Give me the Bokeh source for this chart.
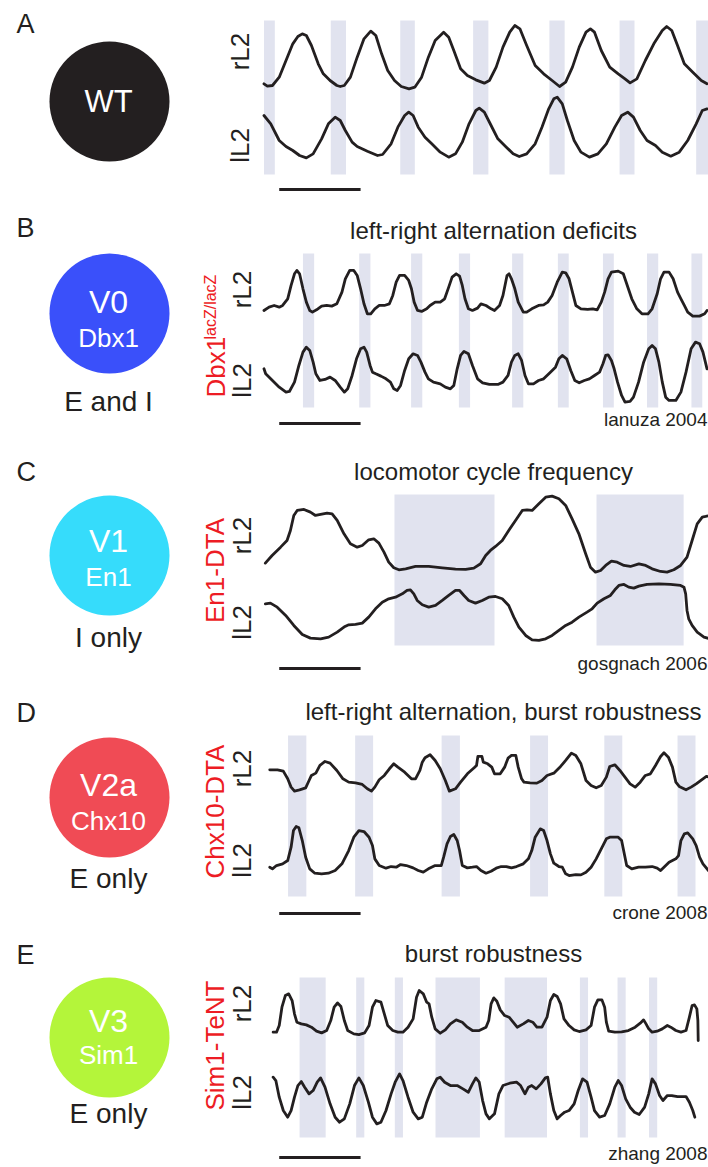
import numpy as np
from bokeh.plotting import figure
from bokeh.models import Range1d
from bokeh.core.properties import value
from bokeh.embed import file_html
from bokeh.resources import INLINE

W, H = 708, 1167
FS = 120.0          # digitised samples per second
PX_PER_SAMPLE = 1 / 2.95
AMP_PER_PX = 3.0    # amplitude units (a.u.) per pixel row
FONT = value("Liberation Sans")
INK = "#231f20"
RED = "#ed1c24"
BAND = "#e1e3ef"
BASELINE_FIX = 0.36  # em offset between requested and drawn alphabetic baseline

# ---------------- ventral root recordings: (sample, amplitude a.u.) ----------------
A_RL2 = [(25, 20), (35, 13), (50, 15), (70, 40), (90, 90), (110, 140), (125, 162), (138, 170), (150, 165),
         (165, 135), (185, 80), (200, 50), (220, 30), (240, 15), (250, 12), (262, 15), (280, 40), (300, 100),
         (320, 155), (340, 178), (355, 165), (372, 110), (390, 60), (410, 30), (430, 12), (453, 5), (470, 10),
         (490, 40), (510, 100), (530, 150), (555, 175), (570, 160), (585, 120), (605, 65), (625, 45), (650, 32),
         (675, 22), (690, 30), (710, 70), (730, 130), (750, 175), (765, 195), (780, 185), (800, 135), (825, 75),
         (850, 50), (875, 30), (897, 12), (915, 25), (935, 70), (955, 130), (975, 175), (988, 185), (1000, 175),
         (1020, 120), (1045, 70), (1070, 50), (1090, 35), (1105, 23), (1125, 35), (1150, 90), (1175, 140),
         (1200, 180), (1213, 192), (1228, 180), (1245, 135), (1265, 80), (1290, 55), (1315, 30), (1332, 20)]
A_LL2 = [(25, 135), (45, 110), (70, 60), (90, 42), (110, 30), (130, 15), (150, 8), (170, 20), (195, 65),
         (215, 110), (235, 130), (250, 120), (265, 90), (285, 55), (300, 42), (330, 28), (360, 15), (375, 18),
         (400, 50), (420, 100), (440, 135), (452, 145), (465, 135), (480, 100), (500, 70), (520, 50), (545, 25),
         (570, 10), (590, 20), (610, 55), (630, 110), (650, 150), (660, 157), (675, 145), (695, 105), (715, 65),
         (740, 40), (760, 20), (778, 12), (800, 20), (825, 50), (845, 100), (865, 155), (880, 185), (890, 190),
         (905, 170), (920, 120), (940, 60), (960, 25), (985, 10), (1010, 20), (1035, 50), (1060, 100), (1080, 135),
         (1098, 145), (1115, 130), (1135, 90), (1155, 60), (1180, 45), (1200, 25), (1225, 13), (1250, 25),
         (1275, 60), (1300, 110), (1318, 150), (1332, 155)]
A_BANDS = [(25, 57), (222, 267), (427, 470), (642, 687), (867, 912), (1074, 1118), (1300, 1336)]

B_RL2 = [(25, 25), (40, 35), (55, 40), (70, 35), (80, 40), (95, 60), (105, 100), (115, 135), (122, 145),
         (130, 135), (140, 90), (150, 50), (160, 25), (168, 20), (180, 27), (195, 38), (210, 40), (225, 38),
         (240, 45), (255, 80), (265, 120), (278, 145), (290, 145), (300, 130), (310, 90), (320, 45), (330, 15),
         (340, 15), (352, 30), (365, 40), (380, 40), (395, 45), (405, 70), (415, 110), (425, 130), (440, 130),
         (452, 115), (460, 90), (468, 50), (478, 25), (490, 22), (505, 30), (515, 40), (530, 50), (545, 50),
         (558, 60), (570, 95), (580, 125), (592, 135), (602, 128), (610, 100), (618, 60), (628, 30), (640, 25),
         (655, 32), (665, 45), (680, 40), (695, 30), (705, 25), (720, 40), (730, 70), (742, 130), (748, 135),
         (755, 120), (765, 90), (775, 50), (790, 20), (800, 20), (815, 30), (835, 40), (850, 42), (862, 50),
         (875, 70), (890, 110), (905, 140), (915, 138), (925, 120), (935, 80), (945, 40), (960, 30), (980, 28),
         (995, 30), (1008, 27), (1020, 50), (1030, 80), (1040, 120), (1050, 140), (1070, 143), (1085, 135),
         (1095, 105), (1110, 60), (1125, 30), (1140, 15), (1158, 15), (1170, 30), (1185, 75), (1195, 120),
         (1205, 140), (1220, 140), (1232, 120), (1245, 80), (1255, 60), (1265, 40), (1275, 20), (1290, 8),
         (1310, 8), (1325, 15), (1332, 25)]
B_LL2 = [(25, 105), (30, 90), (50, 70), (70, 50), (90, 35), (100, 37), (115, 65), (128, 115), (140, 155),
         (150, 170), (160, 160), (170, 125), (178, 90), (190, 70), (205, 73), (220, 80), (235, 70), (250, 50),
         (262, 35), (272, 45), (285, 85), (298, 135), (310, 165), (320, 170), (328, 155), (338, 115), (345, 95),
         (355, 90), (370, 83), (385, 75), (398, 65), (408, 45), (418, 40), (428, 55), (440, 100), (452, 135),
         (465, 150), (478, 145), (488, 125), (500, 95), (510, 75), (525, 65), (545, 60), (560, 50), (575, 45),
         (585, 55), (595, 105), (605, 145), (615, 157), (628, 150), (640, 115), (655, 75), (670, 63), (690, 58),
         (715, 58), (730, 65), (745, 85), (755, 125), (765, 145), (775, 150), (785, 130), (795, 85), (805, 60),
         (820, 60), (835, 70), (850, 75), (870, 95), (885, 110), (895, 135), (905, 145), (918, 135), (930, 100),
         (942, 70), (955, 63), (970, 70), (985, 75), (1000, 85), (1015, 95), (1025, 120), (1033, 145),
         (1040, 147), (1050, 130), (1058, 105), (1068, 65), (1080, 25), (1090, 5), (1105, 7), (1115, 20),
         (1130, 65), (1145, 125), (1160, 165), (1170, 175), (1180, 165), (1190, 125), (1200, 65), (1210, 20),
         (1220, 10), (1240, 10), (1255, 35), (1270, 95), (1285, 165), (1298, 185), (1310, 180), (1320, 155),
         (1332, 105)]
B_BANDS = [(140, 173), (306, 339), (459, 492), (600, 633), (757, 790), (892, 924), (1025, 1057),
           (1155, 1188), (1286, 1318)]

C_RL2 = [(29, 32), (49, 55), (74, 80), (93, 100), (103, 130), (113, 175), (123, 190), (143, 193), (162, 185),
         (177, 175), (192, 178), (211, 182), (226, 180), (241, 160), (261, 120), (280, 90), (300, 80), (315, 85),
         (334, 102), (349, 105), (364, 92), (379, 65), (393, 35), (408, 18), (423, 12), (443, 15), (472, 22),
         (511, 22), (551, 18), (590, 14), (620, 13), (644, 17), (664, 30), (679, 55), (693, 70), (708, 82),
         (728, 100), (747, 130), (767, 160), (787, 190), (801, 192), (816, 190), (836, 210), (856, 230),
         (875, 233), (895, 225), (915, 205), (934, 165), (954, 120), (974, 60), (988, 20), (1003, 5),
         (1018, 10), (1033, 25), (1050, 38), (1067, 35), (1087, 25), (1106, 22), (1131, 30), (1151, 25),
         (1170, 15), (1195, 7), (1214, 5), (1234, 12), (1254, 25), (1273, 50), (1288, 100), (1303, 150),
         (1318, 170), (1328, 172), (1340, 175)]
C_LL2 = [(29, 120), (44, 122), (64, 110), (89, 85), (113, 55), (138, 28), (162, 17), (192, 15), (216, 20),
         (241, 35), (264, 52), (275, 57), (295, 58), (315, 62), (334, 80), (354, 105), (374, 125), (393, 135),
         (413, 140), (433, 150), (447, 160), (457, 162), (467, 150), (477, 130), (492, 117), (511, 110),
         (531, 115), (551, 130), (570, 145), (590, 160), (602, 160), (615, 145), (629, 130), (649, 122),
         (669, 130), (688, 140), (708, 142), (728, 135), (747, 115), (762, 80), (777, 50), (797, 25), (816, 12),
         (836, 10), (856, 15), (875, 25), (895, 40), (915, 55), (934, 65), (954, 80), (978, 95), (993, 105),
         (1008, 122), (1028, 135), (1047, 145), (1060, 162), (1072, 175), (1087, 178), (1101, 170), (1116, 167),
         (1131, 173), (1155, 178), (1190, 180), (1224, 178), (1254, 175), (1264, 170), (1269, 150), (1273, 100),
         (1278, 75), (1288, 55), (1303, 35), (1323, 20), (1340, 15)]
C_BANDS = [(410, 705), (1006, 1263)]

D_RL2 = [(42, 72), (65, 72), (82, 68), (95, 45), (105, 20), (115, 8), (130, 12), (148, 18), (158, 40),
         (165, 55), (178, 62), (190, 85), (205, 97), (220, 92), (240, 70), (258, 45), (275, 35), (295, 33),
         (315, 28), (330, 15), (342, 8), (352, 20), (365, 42), (380, 55), (395, 75), (408, 90), (420, 80),
         (440, 65), (460, 45), (472, 45), (485, 70), (492, 95), (500, 108), (515, 117), (530, 100), (545, 75),
         (560, 40), (572, 8), (590, 15), (605, 35), (625, 60), (645, 78), (652, 85), (656, 112), (668, 112),
         (672, 95), (685, 90), (697, 80), (705, 60), (722, 60), (735, 80), (745, 107), (755, 115), (768, 115),
         (775, 80), (785, 45), (792, 35), (810, 33), (830, 32), (845, 40), (860, 55), (880, 62), (900, 82),
         (915, 100), (932, 122), (945, 115), (960, 90), (975, 40), (990, 25), (1005, 18), (1020, 25),
         (1035, 50), (1045, 82), (1060, 87), (1075, 70), (1090, 50), (1105, 30), (1120, 20), (1135, 35),
         (1150, 55), (1165, 60), (1180, 85), (1195, 112), (1205, 123), (1218, 110), (1230, 80), (1240, 35),
         (1250, 22), (1270, 12), (1285, 20), (1300, 30), (1320, 45), (1330, 52), (1340, 50), (1350, 60),
         (1357, 75)]
D_LL2 = [(42, 30), (50, 25), (62, 35), (80, 40), (95, 50), (105, 90), (112, 140), (120, 152), (128, 148),
         (138, 110), (148, 60), (160, 25), (175, 12), (195, 10), (215, 12), (235, 20), (255, 40), (275, 80),
         (290, 120), (305, 140), (320, 137), (335, 120), (345, 95), (352, 55), (365, 35), (385, 27), (400, 32),
         (415, 30), (428, 38), (445, 35), (465, 28), (480, 20), (495, 15), (510, 25), (530, 35), (548, 35),
         (555, 60), (565, 100), (575, 122), (585, 128), (595, 110), (602, 80), (610, 35), (625, 28), (640, 30),
         (652, 32), (665, 20), (680, 12), (695, 18), (710, 27), (725, 32), (740, 32), (755, 28), (770, 32),
         (790, 40), (805, 55), (815, 80), (825, 120), (840, 145), (850, 140), (860, 110), (870, 70), (880, 42),
         (895, 32), (905, 30), (915, 10), (925, 5), (945, 8), (960, 7), (975, 15), (990, 30), (1005, 55),
         (1020, 85), (1035, 115), (1045, 120), (1070, 120), (1080, 110), (1090, 60), (1095, 35), (1110, 25),
         (1130, 30), (1150, 30), (1170, 32), (1185, 27), (1195, 20), (1205, 30), (1220, 45), (1240, 55),
         (1248, 65), (1255, 110), (1265, 130), (1275, 133), (1290, 115), (1300, 95), (1310, 60), (1320, 40),
         (1340, 15), (1357, 8)]
D_BANDS = [(96, 150), (294, 347), (549, 603), (810, 863), (1029, 1082), (1245, 1298)]

E_RL2 = [(52, 15), (62, 15), (70, 35), (78, 90), (88, 125), (98, 130), (108, 110), (115, 70), (122, 45),
         (135, 40), (150, 37), (165, 30), (180, 18), (195, 13), (210, 20), (222, 50), (232, 90), (242, 103),
         (252, 92), (262, 50), (272, 20), (290, 10), (305, 8), (322, 13), (335, 35), (345, 90), (355, 110),
         (370, 105), (380, 70), (390, 35), (405, 20), (420, 15), (435, 15), (450, 30), (465, 55), (475, 120),
         (483, 140), (495, 130), (505, 105), (512, 100), (520, 60), (530, 25), (545, 12), (560, 22), (575, 40),
         (592, 52), (610, 45), (625, 30), (640, 20), (660, 20), (680, 30), (688, 50), (695, 100), (703, 118),
         (712, 108), (722, 82), (735, 65), (748, 60), (760, 45), (772, 30), (790, 40), (805, 50), (818, 45),
         (830, 30), (845, 30), (860, 60), (870, 110), (880, 128), (890, 122), (900, 100), (910, 55), (925, 35),
         (940, 22), (955, 17), (975, 22), (990, 35), (1000, 90), (1010, 112), (1022, 112), (1030, 90),
         (1035, 45), (1042, 18), (1060, 15), (1080, 16), (1100, 20), (1120, 30), (1135, 42), (1145, 52),
         (1152, 40), (1160, 25), (1170, 15), (1185, 18), (1200, 25), (1215, 35), (1225, 30), (1240, 20),
         (1255, 15), (1270, 20), (1280, 60), (1288, 95), (1295, 97), (1302, 85), (1305, 50), (1306, -10)]
E_LL2 = [(52, 150), (60, 140), (70, 90), (82, 50), (95, 30), (105, 50), (115, 90), (125, 125), (135, 137),
         (145, 120), (158, 100), (170, 110), (182, 135), (192, 148), (205, 120), (220, 70), (235, 30),
         (248, 15), (262, 25), (278, 70), (292, 125), (305, 148), (318, 125), (333, 75), (345, 30), (358, 10),
         (370, 15), (385, 50), (400, 100), (412, 135), (425, 160), (435, 140), (450, 90), (465, 45), (480, 25),
         (492, 30), (505, 75), (520, 115), (535, 145), (545, 150), (558, 135), (575, 125), (595, 125),
         (612, 115), (628, 105), (640, 130), (650, 148), (660, 135), (670, 80), (680, 40), (690, 25), (705, 40),
         (718, 100), (730, 125), (750, 132), (770, 135), (782, 125), (795, 100), (805, 120), (815, 125),
         (828, 115), (842, 130), (855, 148), (862, 150), (870, 100), (880, 50), (890, 25), (900, 35), (912, 45),
         (925, 50), (940, 70), (952, 110), (965, 145), (978, 135), (990, 90), (1000, 50), (1015, 30),
         (1030, 35), (1045, 70), (1060, 120), (1070, 140), (1080, 125), (1092, 85), (1105, 60), (1118, 45),
         (1132, 38), (1148, 60), (1160, 100), (1170, 145), (1180, 130), (1192, 95), (1202, 80), (1215, 95),
         (1228, 95), (1245, 92), (1270, 92), (1280, 75), (1290, 50), (1296, 30)]
E_BANDS = [(130, 207), (297, 321), (411, 435), (531, 662), (735, 860), (957, 981), (1068, 1092), (1161, 1185)]

SCALE_BAR_S = 2.0
SCALE_BAR_START = 70  # sample

# ---------------- panel labels ----------------
LETTERS = ["A", "B", "C", "D", "E"]
POPULATIONS = ["WT", "V0", "V1", "V2a", "V3"]
MARKERS = ["", "Dbx1", "En1", "Chx10", "Sim1"]
TRANSMITTERS = ["", "E and I", "I only", "E only", "E only"]
POP_COLORS = [INK, "#3a50fa", "#36dcfb", "#f04b55", "#b4f53a"]
TITLES = ["", "left-right alternation deficits", "locomotor cycle frequency",
          "left-right alternation, burst robustness", "burst robustness"]
GENOTYPES = ["", "Dbx1", "En1-DTA", "Chx10-DTA", "Sim1-TeNT"]
CITATIONS = ["", "lanuza 2004", "gosgnach 2006", "crone 2008", "zhang 2008"]

# ---------------- layout (pixel rows from the top of the page) ----------------
LETTER_ROW = [33, 237, 481, 722, 964]
CIRCLE_ROW = [101, 313, 555, 797, 1037]
LINE1_ROW = [112, 313, 552, 796, 1032]
LINE2_ROW = [None, 347, 586, 830, 1064]
BELOW_ROW = [None, 411, 647, 888, 1123]
TITLE_ROW = [None, 239, 480, 720, 962]
TITLE_X = [None, 493, 493, 503, 493]
CITE_ROW = [None, 426, 670, 919, 1160]
RL2_ROW = [51, 289, 535, 768, 1003]
LL2_ROW = [145, 380, 622, 860, 1092]
GENO_ROW = [None, 397, 570, 811, 1045]
BAND_ROWS = [(20, 174), (253, 407), (494, 645), (735, 896), (977, 1137)]
SCALE_ROW = [189, 423, 668, 913, 1157]
TRACE_BASE = [(90, 160), (318.3, 403.3), (573.3, 643.3), (793.3, 876.7), (1036.7, 1126.7)]

TRACES = [(A_RL2, A_LL2), (B_RL2, B_LL2), (C_RL2, C_LL2), (D_RL2, D_LL2), (E_RL2, E_LL2)]
BANDS = [A_BANDS, B_BANDS, C_BANDS, D_BANDS, E_BANDS]

T0_PX = 255  # page column of sample 0
p = figure(width=W, height=H, x_range=Range1d(0, W), y_range=Range1d(0, H),
           output_backend="svg", toolbar_location=None, min_border=0,
           x_axis_location=None, y_axis_location=None)
p.extra_x_ranges = {"time": Range1d(-T0_PX / PX_PER_SAMPLE / FS, (W - T0_PX) / PX_PER_SAMPLE / FS)}
p.extra_y_ranges = {"amp": Range1d(-AMP_PER_PX * H, 0)}
p.grid.visible = False
p.outline_line_color = None
p.background_fill_color = "white"
p.border_fill_color = "white"


def up(row):
    return H - row


def txt(x, row, s, size, color=INK, align="center", angle=0.0):
    shift = BASELINE_FIX * size
    if angle:
        x, row = x - shift, row
    else:
        row = row - shift
    p.text(x=[x], y=[up(row)], text=[s], text_font=FONT, text_font_size=f"{size}px",
           text_color=color, text_align=align, text_baseline="alphabetic", angle=angle)


for k in range(5):
    # analysis windows
    b0, b1 = BAND_ROWS[k]
    lefts = [a / FS for a, _ in BANDS[k]]
    rights = [b / FS for _, b in BANDS[k]]
    p.quad(left=lefts, right=rights, bottom=[up(b1)] * len(lefts), top=[up(b0)] * len(lefts),
           x_range_name="time", fill_color=BAND, line_color=None)

    # rL2 and lL2 traces
    for pairs, base in zip(TRACES[k], TRACE_BASE[k]):
        t = np.array([s for s, _ in pairs], float) / FS
        a = np.array([v for _, v in pairs], float) - AMP_PER_PX * base
        p.line(t, a, x_range_name="time", y_range_name="amp", line_color=INK,
               line_width=2.8, line_join="round", line_cap="round")

    # scale bar
    t0 = SCALE_BAR_START / FS
    p.segment(x0=[t0], y0=[up(SCALE_ROW[k])], x1=[t0 + SCALE_BAR_S], y1=[up(SCALE_ROW[k])],
              x_range_name="time", line_color=INK, line_width=3)

    # population disc
    p.circle(x=[109], y=[up(CIRCLE_ROW[k])], radius=60, fill_color=POP_COLORS[k], line_color=None)

    txt(16, LETTER_ROW[k], LETTERS[k], 27, align="left")
    if k == 0:
        txt(108, LINE1_ROW[k], POPULATIONS[k], 31, color="white")
    else:
        txt(108, LINE1_ROW[k], POPULATIONS[k], 32, color="white")
        txt(108, LINE2_ROW[k], MARKERS[k], 26, color="white")
        txt(108, BELOW_ROW[k], TRANSMITTERS[k], 28)
        txt(TITLE_X[k], TITLE_ROW[k], TITLES[k], 24)
        txt(707, CITE_ROW[k], CITATIONS[k], 19, align="right")

    # root labels
    lx = 249 if k == 0 else 251
    txt(lx, RL2_ROW[k], "rL2", 26, angle=np.pi / 2)
    txt(lx, LL2_ROW[k], "lL2", 26, angle=np.pi / 2)

    if k == 1:
        txt(225, GENO_ROW[k], GENOTYPES[k], 26, color=RED, align="left", angle=np.pi / 2)
        txt(216, 339, "lacZ/lacZ", 16, color=RED, align="left", angle=np.pi / 2)
    elif k > 1:
        txt(224, GENO_ROW[k], GENOTYPES[k], 26, color=RED, angle=np.pi / 2)

open("out.html", "w").write(file_html(p, INLINE))
